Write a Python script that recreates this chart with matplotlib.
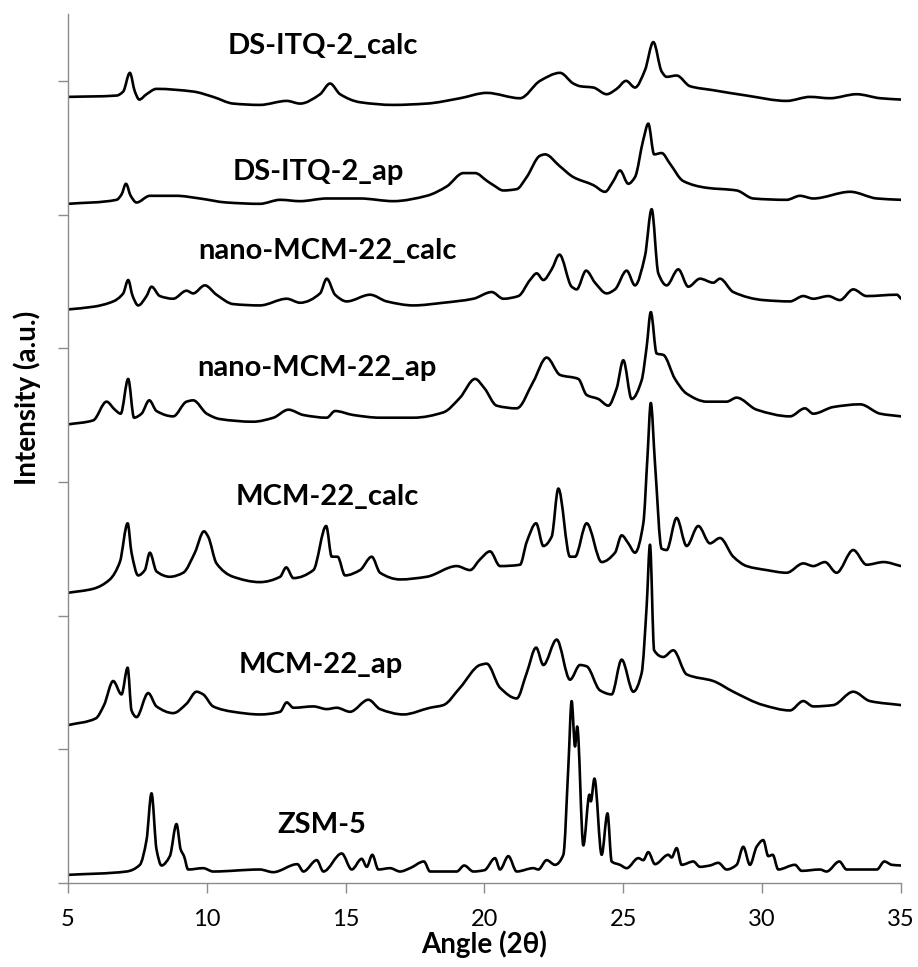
import matplotlib
matplotlib.use("Agg")
import matplotlib.pyplot as plt
from matplotlib.path import Path
from matplotlib.patches import PathPatch
import numpy as np

# XRD patterns, stacked (x = 2theta, y = offset intensity)
ds_itq2_calc = [(5.0, 5.88), (6.75, 5.89), (6.99, 5.92), (7.23, 6.06), (7.41, 5.92), (7.57, 5.86),
                (7.83, 5.90), (8.19, 5.94), (9.51, 5.92), (10.23, 5.88), (10.95, 5.83), (11.91, 5.82),
                (12.88, 5.85), (13.36, 5.83), (14.08, 5.90), (14.44, 5.98), (14.80, 5.90), (15.52, 5.84),
                (16.72, 5.82), (17.92, 5.83), (19.12, 5.87), (20.08, 5.91), (21.28, 5.87), (22.0, 6.00),
                (22.72, 6.06), (23.2, 5.98), (23.44, 5.96), (23.92, 5.95), (24.4, 5.90), (24.76, 5.94),
                (25.1, 6.00), (25.42, 5.95), (25.78, 6.08), (26.08, 6.29), (26.38, 6.07), (26.56, 6.03),
                (26.92, 6.04), (27.4, 5.96), (28.24, 5.93), (29.44, 5.89), (30.88, 5.85), (31.72, 5.88),
                (32.44, 5.87), (33.4, 5.90), (34.25, 5.87), (35.0, 5.86)]

ds_itq2_ap = [(5.0, 5.08), (6.75, 5.11), (6.93, 5.15), (7.09, 5.23), (7.26, 5.14), (7.47, 5.09),
              (7.95, 5.14), (8.91, 5.14), (9.75, 5.12), (10.71, 5.09), (11.91, 5.08), (12.64, 5.11),
              (13.36, 5.10), (14.32, 5.12), (15.52, 5.12), (16.72, 5.10), (17.92, 5.14), (18.64, 5.21),
              (19.24, 5.31), (19.66, 5.31), (20.1, 5.25), (20.32, 5.22), (20.68, 5.18), (21.16, 5.19),
              (21.52, 5.28), (22.0, 5.44), (22.18, 5.45), (22.72, 5.36), (23.2, 5.28), (23.92, 5.22),
              (24.34, 5.17), (24.64, 5.25), (24.88, 5.33), (25.18, 5.23), (25.42, 5.28), (25.72, 5.56),
              (25.9, 5.68), (26.11, 5.45), (26.38, 5.46), (26.68, 5.38), (27.16, 5.25), (28.0, 5.20),
              (29.08, 5.18), (29.68, 5.12), (30.88, 5.11), (31.36, 5.14), (31.84, 5.12), (33.17, 5.17),
              (34.13, 5.12), (35.0, 5.11)]

nano_mcm22_calc = [(5.0, 4.29), (5.91, 4.31), (6.63, 4.35), (6.99, 4.41), (7.17, 4.51), (7.33, 4.39),
                   (7.53, 4.32), (7.83, 4.39), (8.01, 4.46), (8.31, 4.39), (8.79, 4.37), (9.27, 4.43),
                   (9.51, 4.41), (9.93, 4.47), (10.35, 4.40), (10.95, 4.33), (11.91, 4.32), (12.88, 4.37),
                   (13.36, 4.34), (14.08, 4.41), (14.32, 4.52), (14.62, 4.40), (15.04, 4.35), (15.88, 4.40),
                   (16.48, 4.35), (17.44, 4.32), (18.52, 4.34), (19.6, 4.37), (20.26, 4.42), (20.68, 4.37),
                   (21.22, 4.39), (21.64, 4.51), (21.88, 4.56), (22.12, 4.51), (22.42, 4.59), (22.7, 4.70),
                   (23.14, 4.46), (23.32, 4.44), (23.66, 4.58), (23.98, 4.49), (24.4, 4.41), (24.7, 4.44),
                   (25.12, 4.58), (25.42, 4.47), (25.78, 4.69), (26.02, 5.04), (26.26, 4.56), (26.56, 4.47),
                   (26.98, 4.59), (27.34, 4.46), (27.76, 4.52), (28.24, 4.49), (28.48, 4.52), (28.96, 4.42),
                   (30.04, 4.36), (31.0, 4.35), (31.48, 4.39), (31.84, 4.37), (32.38, 4.39), (32.8, 4.36),
                   (33.28, 4.44), (33.76, 4.39), (34.85, 4.40), (35.0, 4.37)]

nano_mcm22_ap = [(5.0, 3.43), (5.91, 3.46), (6.39, 3.60), (6.69, 3.54), (6.9, 3.51), (7.17, 3.77),
                 (7.38, 3.48), (7.65, 3.51), (7.93, 3.61), (8.19, 3.53), (8.79, 3.49), (9.27, 3.60),
                 (9.51, 3.61), (10.0, 3.51), (10.47, 3.47), (11.67, 3.45), (12.4, 3.48), (12.94, 3.54),
                 (13.48, 3.50), (14.32, 3.48), (14.62, 3.53), (15.28, 3.50), (16.24, 3.48), (17.44, 3.48),
                 (18.52, 3.52), (19.12, 3.63), (19.66, 3.77), (20.0, 3.70), (20.44, 3.57), (21.16, 3.55),
                 (21.76, 3.75), (22.24, 3.93), (22.72, 3.80), (23.38, 3.77), (23.68, 3.65), (24.1, 3.62),
                 (24.46, 3.57), (24.76, 3.70), (25.0, 3.91), (25.3, 3.62), (25.66, 3.76), (25.84, 4.01),
                 (25.99, 4.27), (26.2, 3.96), (26.44, 3.95), (26.86, 3.77), (27.28, 3.66), (28.0, 3.60),
                 (28.72, 3.60), (29.08, 3.63), (29.8, 3.54), (31.0, 3.49), (31.54, 3.55), (31.84, 3.51),
                 (32.56, 3.56), (33.53, 3.58), (34.25, 3.51), (35.0, 3.49)]

mcm22_calc = [(5.0, 2.17), (5.91, 2.20), (6.51, 2.27), (6.87, 2.40), (7.15, 2.69), (7.29, 2.47),
              (7.53, 2.30), (7.77, 2.34), (7.95, 2.47), (8.19, 2.33), (8.67, 2.29), (9.15, 2.32),
              (9.57, 2.47), (9.9, 2.63), (10.05, 2.59), (10.35, 2.39), (10.95, 2.29), (11.91, 2.25),
              (12.64, 2.29), (12.86, 2.36), (13.12, 2.28), (13.84, 2.34), (14.3, 2.67), (14.5, 2.44),
              (14.71, 2.44), (14.98, 2.30), (15.52, 2.34), (15.94, 2.44), (16.24, 2.32), (16.96, 2.27),
              (17.92, 2.29), (19.0, 2.37), (19.48, 2.34), (19.84, 2.42), (20.2, 2.48), (20.56, 2.37),
              (21.28, 2.38), (21.52, 2.55), (21.86, 2.69), (22.12, 2.52), (22.42, 2.59), (22.66, 2.95),
              (23.08, 2.44), (23.26, 2.44), (23.68, 2.69), (24.22, 2.40), (24.7, 2.47), (24.94, 2.60),
              (25.18, 2.54), (25.42, 2.47), (25.72, 2.69), (25.87, 3.19), (25.99, 3.59), (26.14, 3.14),
              (26.38, 2.50), (26.56, 2.49), (26.92, 2.73), (27.28, 2.52), (27.7, 2.67), (28.12, 2.54),
              (28.48, 2.58), (28.96, 2.44), (29.44, 2.37), (30.16, 2.34), (30.88, 2.32), (31.48, 2.39),
              (31.84, 2.37), (32.26, 2.40), (32.68, 2.32), (33.28, 2.49), (33.76, 2.38), (34.37, 2.40),
              (35.0, 2.37)]

mcm22_ap = [(5.0, 1.18), (6.0, 1.23), (6.3, 1.33), (6.63, 1.51), (6.93, 1.41), (7.15, 1.61),
            (7.29, 1.29), (7.47, 1.24), (7.89, 1.42), (8.19, 1.32), (8.79, 1.27), (9.27, 1.34),
            (9.63, 1.43), (9.87, 1.41), (10.23, 1.32), (10.95, 1.28), (11.91, 1.26), (12.64, 1.28),
            (12.88, 1.35), (13.12, 1.31), (13.84, 1.32), (14.32, 1.30), (14.68, 1.31), (15.16, 1.28),
            (15.82, 1.37), (16.24, 1.30), (17.08, 1.26), (18.04, 1.31), (18.52, 1.33), (19.12, 1.46),
            (19.84, 1.63), (20.08, 1.64), (20.56, 1.46), (21.16, 1.38), (21.52, 1.57), (21.86, 1.76),
            (22.12, 1.63), (22.6, 1.82), (23.08, 1.52), (23.44, 1.63), (23.68, 1.62), (24.16, 1.44),
            (24.58, 1.41), (24.94, 1.67), (25.36, 1.43), (25.66, 1.57), (25.84, 2.07), (25.96, 2.53),
            (26.11, 1.74), (26.44, 1.69), (26.8, 1.74), (27.28, 1.56), (28.24, 1.51), (28.96, 1.43),
            (30.04, 1.33), (31.0, 1.29), (31.48, 1.36), (31.84, 1.32), (32.56, 1.33), (33.28, 1.43),
            (33.88, 1.36), (35.0, 1.33)]

zsm5 = [(5.0, 0.06), (7.11, 0.085), (7.59, 0.135), (7.83, 0.32), (8.01, 0.67), (8.19, 0.25),
        (8.37, 0.13), (8.67, 0.20), (8.91, 0.44), (9.06, 0.25), (9.18, 0.20), (9.33, 0.10),
        (9.87, 0.11), (10.23, 0.085), (11.91, 0.10), (12.39, 0.08), (13.26, 0.14), (13.48, 0.085),
        (13.96, 0.17), (14.2, 0.085), (14.86, 0.22), (15.22, 0.10), (15.58, 0.18), (15.76, 0.12),
        (15.96, 0.21), (16.18, 0.10), (16.6, 0.11), (16.96, 0.085), (17.32, 0.11), (17.82, 0.16),
        (18.04, 0.085), (19.0, 0.085), (19.27, 0.13), (19.6, 0.085), (20.0, 0.095), (20.38, 0.185),
        (20.56, 0.10), (20.86, 0.20), (21.16, 0.085), (21.76, 0.11), (21.94, 0.10), (22.24, 0.17),
        (22.54, 0.135), (22.84, 0.21), (23.02, 0.87), (23.14, 1.36), (23.26, 1.02), (23.34, 1.17),
        (23.56, 0.28), (23.78, 0.66), (23.83, 0.61), (23.96, 0.78), (24.22, 0.21), (24.43, 0.52),
        (24.58, 0.16), (24.88, 0.135), (25.12, 0.11), (25.54, 0.185), (25.72, 0.17), (25.9, 0.23),
        (26.14, 0.14), (26.62, 0.21), (26.74, 0.19), (26.92, 0.26), (27.1, 0.135), (27.52, 0.16),
        (27.76, 0.12), (28.12, 0.13), (28.42, 0.15), (28.72, 0.10), (29.08, 0.135), (29.32, 0.27),
        (29.56, 0.135), (29.8, 0.27), (30.04, 0.32), (30.22, 0.20), (30.38, 0.21), (30.58, 0.10),
        (31.18, 0.135), (31.42, 0.09), (32.08, 0.10), (32.32, 0.085), (32.78, 0.16), (33.04, 0.10),
        (34.13, 0.10), (34.4, 0.16), (34.67, 0.135), (35.0, 0.13)]

patterns = [ds_itq2_calc, ds_itq2_ap, nano_mcm22_calc, nano_mcm22_ap, mcm22_calc, mcm22_ap, zsm5]
names = ["DS-ITQ-2_calc", "DS-ITQ-2_ap", "nano-MCM-22_calc", "nano-MCM-22_ap",
         "MCM-22_calc", "MCM-22_ap", "ZSM-5"]
label_pos = [(14.18, 6.26), (14.0, 5.32), (14.33, 4.73), (13.97, 3.85),
             (14.33, 2.89), (14.11, 1.63), (14.15, 0.43)]


# smoothed line through the read points (like Excel's "smoothed line"),
# monotone tangents so the curve does not overshoot between points
def smooth_path(pts):
    xy = np.array(pts, dtype=float)
    x, y = xy[:, 0], xy[:, 1]
    h = np.diff(x)
    d = np.diff(y) / h
    m = np.zeros(len(x))
    m[0], m[-1] = d[0], d[-1]
    for k in range(1, len(x) - 1):
        if d[k - 1] * d[k] > 0:
            w1 = 2 * h[k] + h[k - 1]
            w2 = h[k] + 2 * h[k - 1]
            m[k] = (w1 + w2) / (w1 / d[k - 1] + w2 / d[k])
    verts = [(x[0], y[0])]
    codes = [Path.MOVETO]
    for i in range(len(x) - 1):
        verts += [(x[i] + h[i] / 3, y[i] + m[i] * h[i] / 3),
                  (x[i + 1] - h[i] / 3, y[i + 1] - m[i + 1] * h[i] / 3),
                  (x[i + 1], y[i + 1])]
        codes += [Path.CURVE4] * 3
    return Path(verts, codes)


plt.rcParams['font.family'] = ['Lato', 'DejaVu Sans']

fig = plt.figure(figsize=(9.18, 9.67), dpi=100)
ax = fig.add_axes([0.074, 0.087, 0.9075, 0.8985])

for pat in patterns:
    ax.add_patch(PathPatch(smooth_path(pat), fill=False, edgecolor='black',
                           lw=1.9, joinstyle='round', capstyle='round'))

for name, (lx, ly) in zip(names, label_pos):
    ax.text(lx, ly, name, ha='center', va='center', fontsize=21, fontweight='bold')

ax.set_xlim(5, 35)
ax.set_ylim(0, 6.5)
ax.set_xticks(range(5, 36, 5))
ax.set_yticks(range(0, 7))
ax.set_yticklabels([])
for side in ['top', 'right']:
    ax.spines[side].set_visible(False)
for side in ['left', 'bottom']:
    ax.spines[side].set_color('#8c8c8c')
    ax.spines[side].set_linewidth(1.0)
ax.tick_params(axis='both', direction='out', length=7, width=1.0, color='#8c8c8c',
               labelsize=17, pad=12)
ax.set_xlabel("Angle (2θ)", fontsize=20, fontweight='bold', labelpad=0)
fig.text(27 / 918, 1 - 398 / 967, "Intensity (a.u.)", rotation=90, ha='center', va='center',
         fontsize=20, fontweight='bold')

fig.savefig("out.png", dpi=100)
